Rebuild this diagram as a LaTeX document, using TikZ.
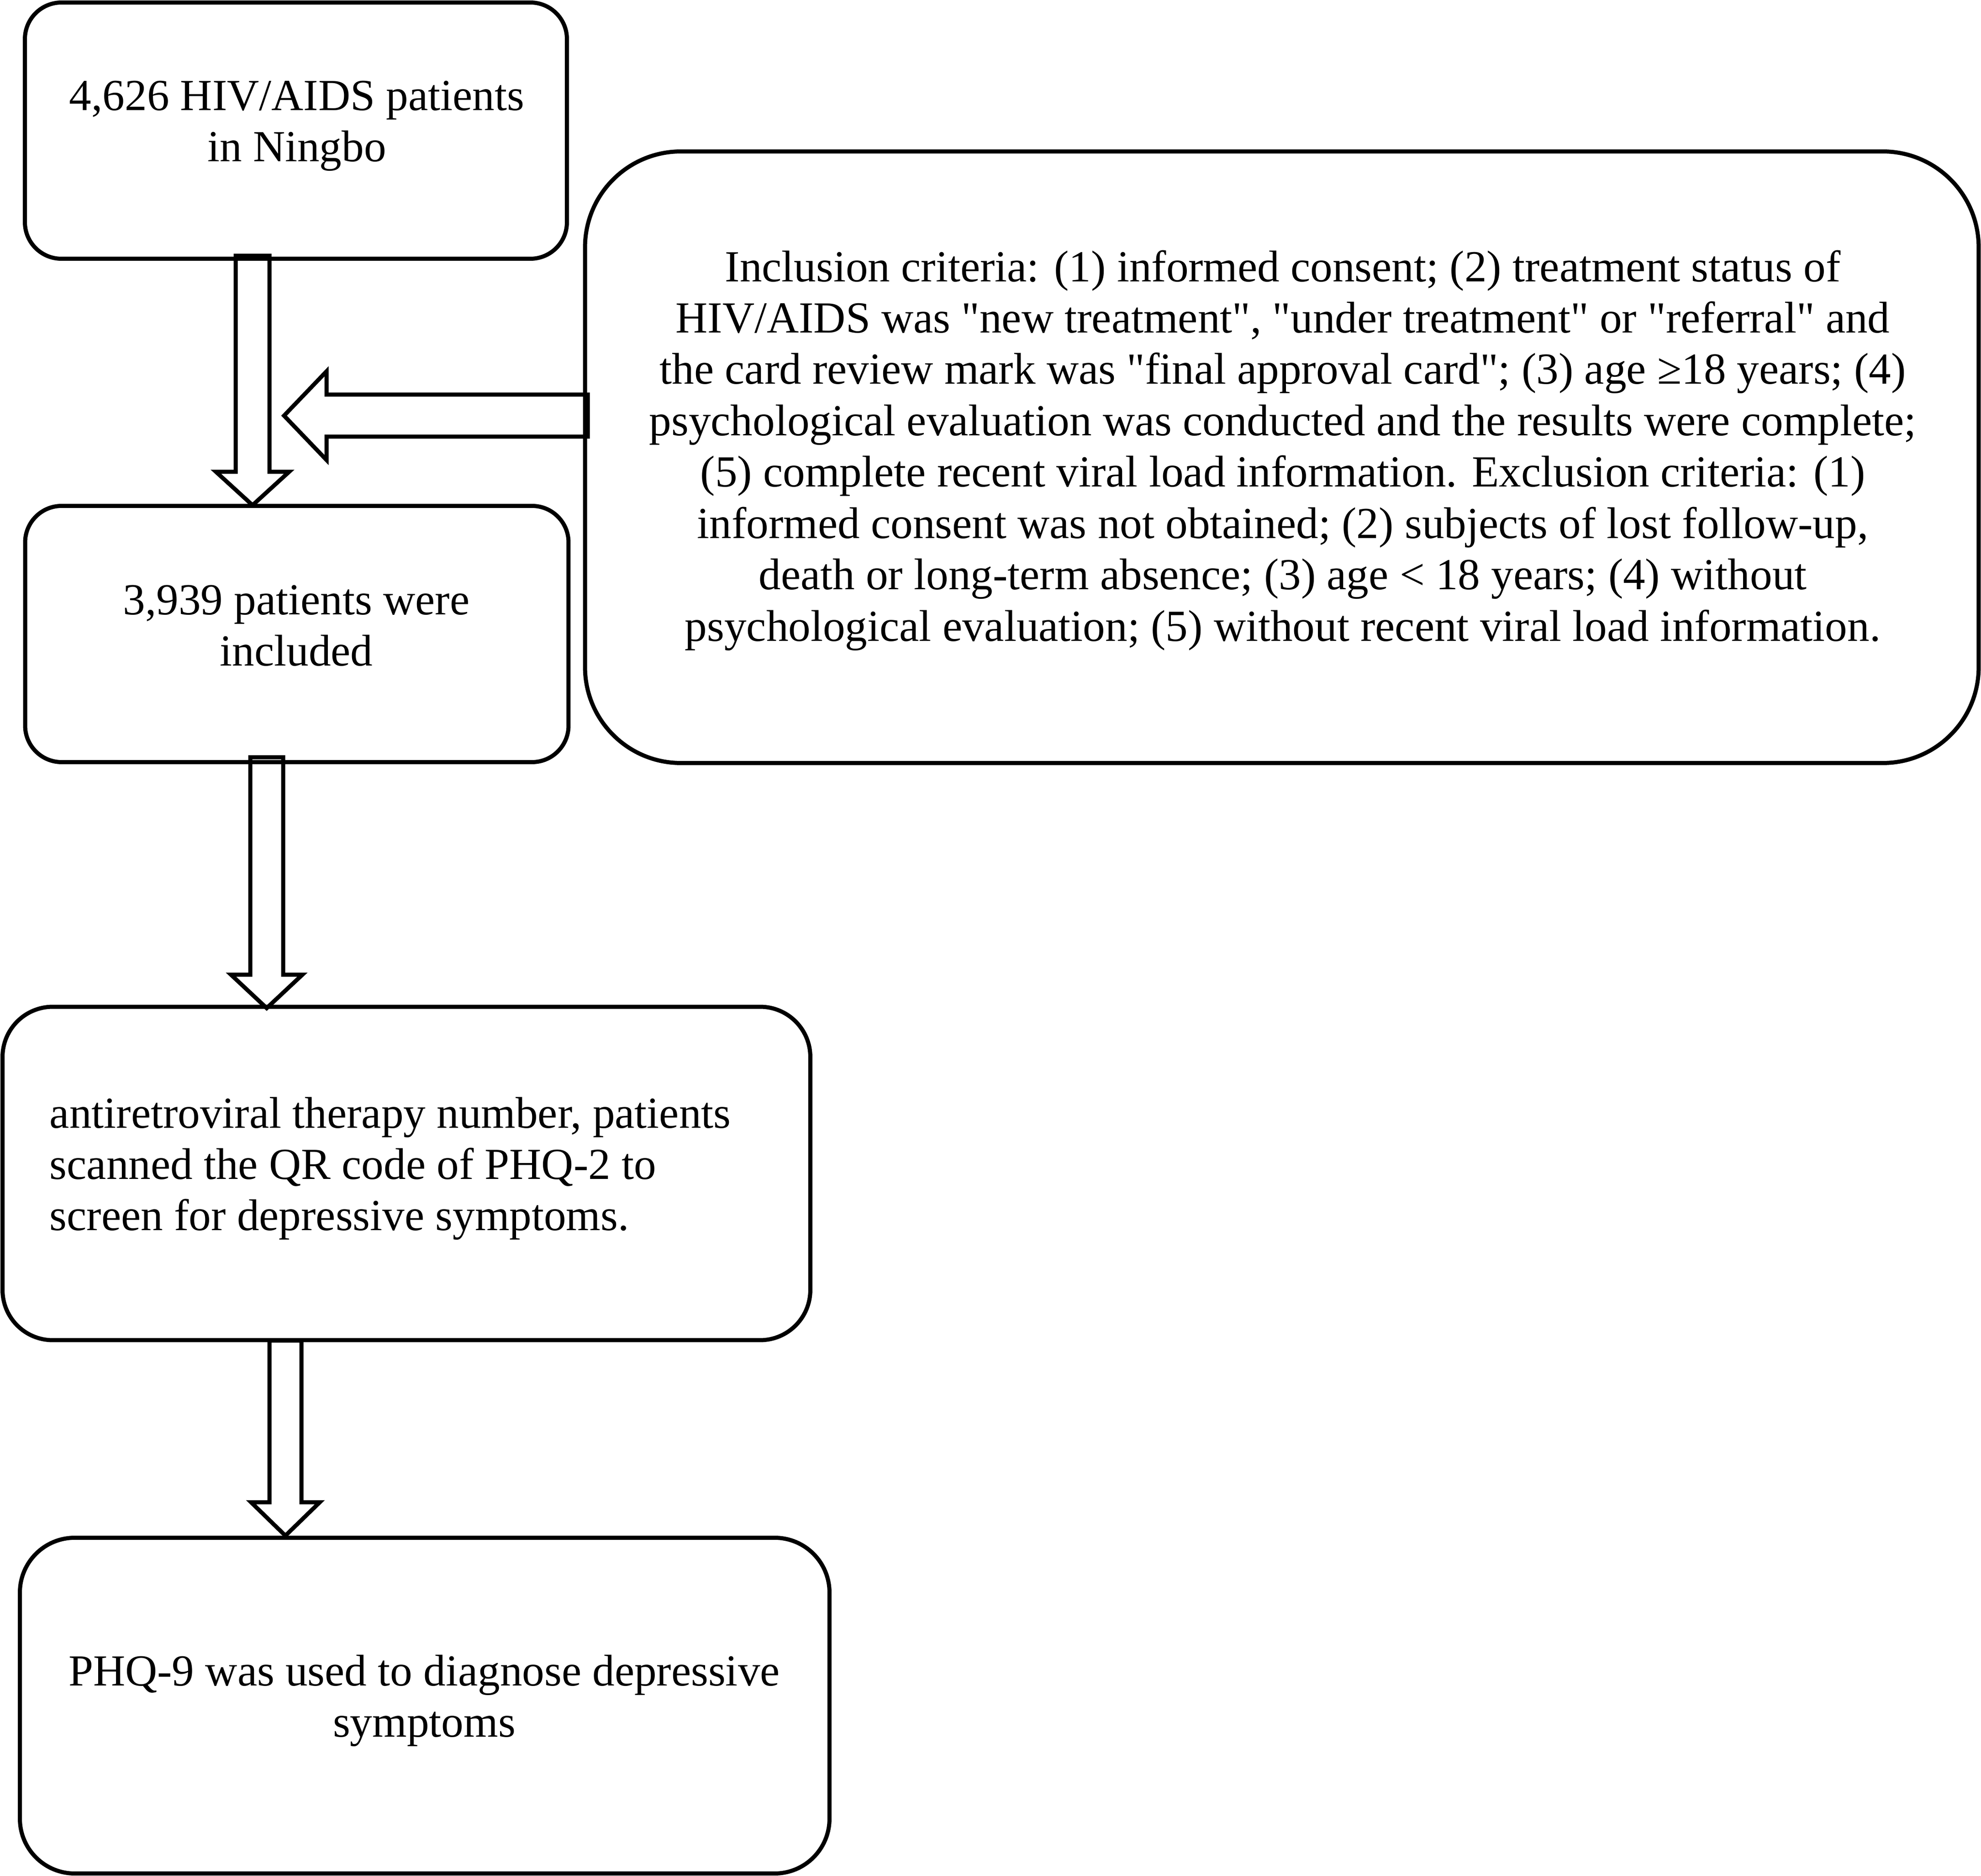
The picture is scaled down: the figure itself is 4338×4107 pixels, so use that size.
\documentclass[tikz,border=0pt]{standalone}
\usepackage{fontspec}
\newfontfamily\tnr{Liberation Serif}
\begin{document}
\begin{tikzpicture}[x=0.1pt,y=-0.1pt,
  box/.style={draw, line width=0.9pt, inner sep=0pt},
  txt/.style={font=\tnr\fontsize{9.72pt}{11.2pt}\selectfont, inner sep=0pt, align=center},
  barrow/.style={draw, line width=0.9pt, line join=miter}]
\useasboundingbox (0,0) rectangle (4338,4107);

% boxes
\node[box, rounded corners=8pt, minimum width=118.7pt, minimum height=56.1pt] (b1) at (648,286) {};
\node[box, rounded corners=8pt, minimum width=119.0pt, minimum height=56.1pt] (b2) at (650,1388) {};
\node[box, rounded corners=21pt, minimum width=305.2pt, minimum height=133.9pt] (crit) at (2807,1001) {};
\node[box, rounded corners=11pt, minimum width=176.9pt, minimum height=73.0pt] (b3) at (890,2569) {};
\node[box, rounded corners=12pt, minimum width=177.3pt, minimum height=73.5pt] (b4) at (930,3734) {};

% texts
\node[txt] (t1) at (650,276) {4,626 HIV/AIDS patients\\in Ningbo};
\node[txt] (t2) at (649,1370) {3,939 patients were\\included};
\node[txt, font=\tnr\fontsize{9.72pt}{11.25pt}\selectfont] (tc) at (2809,986) {Inclusion criteria: (1) informed consent; (2) treatment status of\\
HIV/AIDS was "new treatment", "under treatment" or "referral" and\\
the card review mark was "final approval card"; (3) age ≥18 years; (4)\\
psychological evaluation was conducted and the results were complete;\\
(5) complete recent viral load information. Exclusion criteria: (1)\\
informed consent was not obtained; (2) subjects of lost follow-up,\\
death or long-term absence; (3) age < 18 years; (4) without\\
psychological evaluation; (5) without recent viral load information.};
\node[txt, align=left, anchor=west] (t3) at (107,2558) {antiretroviral therapy number, patients\\scanned the QR code of PHQ-2 to\\screen for depressive symptoms.};
\node[txt] (t4) at (929,3723) {PHQ-9 was used to diagnose depressive\\symptoms};

% block arrows
\coordinate (a1) at (553,560);
\draw[barrow, shift={(a1)}] (-37,0) -- (37,0) -- (37,473) -- (80,473) -- (0,546) -- (-80,473) -- (-37,473) -- cycle;
\coordinate (a0) at (1287,910);
\draw[barrow, shift={(a0)}] (0,-46) -- (-572,-46) -- (-572,-97) -- (-665,0) -- (-572,97) -- (-572,46) -- (0,46) -- cycle;
\coordinate (a2) at (584,1658);
\draw[barrow, shift={(a2)}] (-36,0) -- (36,0) -- (36,476) -- (78,476) -- (0,549) -- (-78,476) -- (-36,476) -- cycle;
\coordinate (a3) at (625,2935);
\draw[barrow, shift={(a3)}] (-35,0) -- (35,0) -- (35,354) -- (75,354) -- (0,427) -- (-75,354) -- (-35,354) -- cycle;
\end{tikzpicture}
\end{document}
